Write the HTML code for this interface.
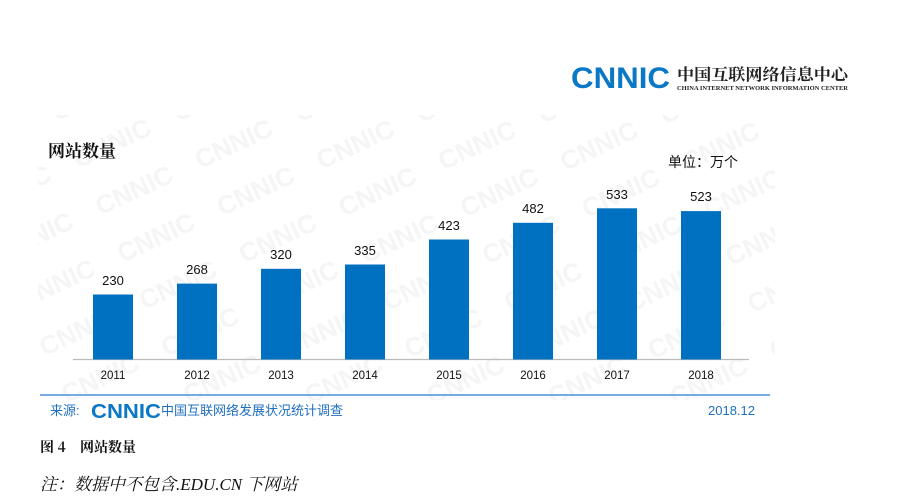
<!DOCTYPE html>
<html><head><meta charset="utf-8"><style>
body{margin:0;background:#fff;width:899px;height:504px;overflow:hidden;font-family:"Liberation Sans","Noto Sans CJK SC",sans-serif}
</style></head><body>
<svg width="899" height="504" xmlns="http://www.w3.org/2000/svg" style="position:absolute;left:0;top:0">
<defs>
<pattern id="wm" width="110" height="52" patternUnits="userSpaceOnUse" patternTransform="rotate(-25)">
<text x="0" y="30" font-family="Liberation Sans" font-weight="bold" font-size="26" fill="#f5f5f5">CNNIC</text>
</pattern>
</defs>
<rect x="38" y="115" width="737" height="285" fill="url(#wm)"/>
<text x="571" y="88" font-family="Liberation Sans" font-weight="bold" font-size="30" fill="#0b78c6" textLength="99" lengthAdjust="spacingAndGlyphs">CNNIC</text>
<text x="677" y="80" font-family="Noto Serif CJK SC,serif" font-weight="bold" font-size="16" fill="#222" textLength="171" lengthAdjust="spacingAndGlyphs">中国互联网络信息中心</text>
<text x="677" y="90" font-family="Liberation Serif" font-weight="bold" font-size="6" fill="#222" textLength="171" lengthAdjust="spacingAndGlyphs">CHINA INTERNET NETWORK INFORMATION CENTER</text>
<text x="48" y="157" font-family="Noto Serif CJK SC,serif" font-weight="bold" font-size="17" fill="#111">网站数量</text>
<text x="668" y="167" font-size="14" fill="#111">单位：万个</text>
<line x1="73" y1="359.5" x2="749" y2="359.5" stroke="#bbb" stroke-width="1.2"/>
<g fill="#0070c0">
<rect x="93" y="294.5" width="40" height="65"/>
<rect x="177" y="283.6" width="40" height="75.9"/>
<rect x="261" y="268.8" width="40" height="90.7"/>
<rect x="345" y="264.5" width="40" height="95"/>
<rect x="429" y="239.5" width="40" height="120"/>
<rect x="513" y="222.8" width="40" height="136.7"/>
<rect x="597" y="208.3" width="40" height="151.2"/>
<rect x="681" y="211.1" width="40" height="148.4"/>
</g>
<g font-size="13" fill="#111" text-anchor="middle">
<text x="113" y="285">230</text><text x="197" y="274">268</text><text x="281" y="259">320</text><text x="365" y="255">335</text>
<text x="449" y="230">423</text><text x="533" y="213">482</text><text x="617" y="199">533</text><text x="701" y="201">523</text>
</g>
<g font-size="11.5" fill="#111" text-anchor="middle">
<text x="113" y="379">2011</text><text x="197" y="379">2012</text><text x="281" y="379">2013</text><text x="365" y="379">2014</text>
<text x="449" y="379">2015</text><text x="533" y="379">2016</text><text x="617" y="379">2017</text><text x="701" y="379">2018</text>
</g>
<line x1="40" y1="395" x2="770" y2="395" stroke="#4a90d9" stroke-width="1.5"/>
<text x="50" y="415" font-size="13" fill="#1f6fbf">来源:</text>
<text x="91" y="418" font-family="Liberation Sans" font-weight="bold" font-size="20" fill="#0b78c6" textLength="70" lengthAdjust="spacingAndGlyphs">CNNIC</text>
<text x="161" y="415" font-size="13" fill="#1f6fbf">中国互联网络发展状况统计调查</text>
<text x="708" y="415" font-size="13" fill="#1f6fbf">2018.12</text>
<text x="40" y="452" font-family="Noto Serif CJK SC,serif" font-weight="bold" font-size="14" fill="#111">图 4</text>
<text x="80" y="452" font-family="Noto Serif CJK SC,serif" font-weight="bold" font-size="14" fill="#111">网站数量</text>
<text x="40" y="490" font-family="Liberation Serif,Noto Serif CJK SC,serif" font-style="italic" font-size="17" fill="#111">注：数据中不包含.EDU.CN 下网站</text>
</svg>
</body></html>
